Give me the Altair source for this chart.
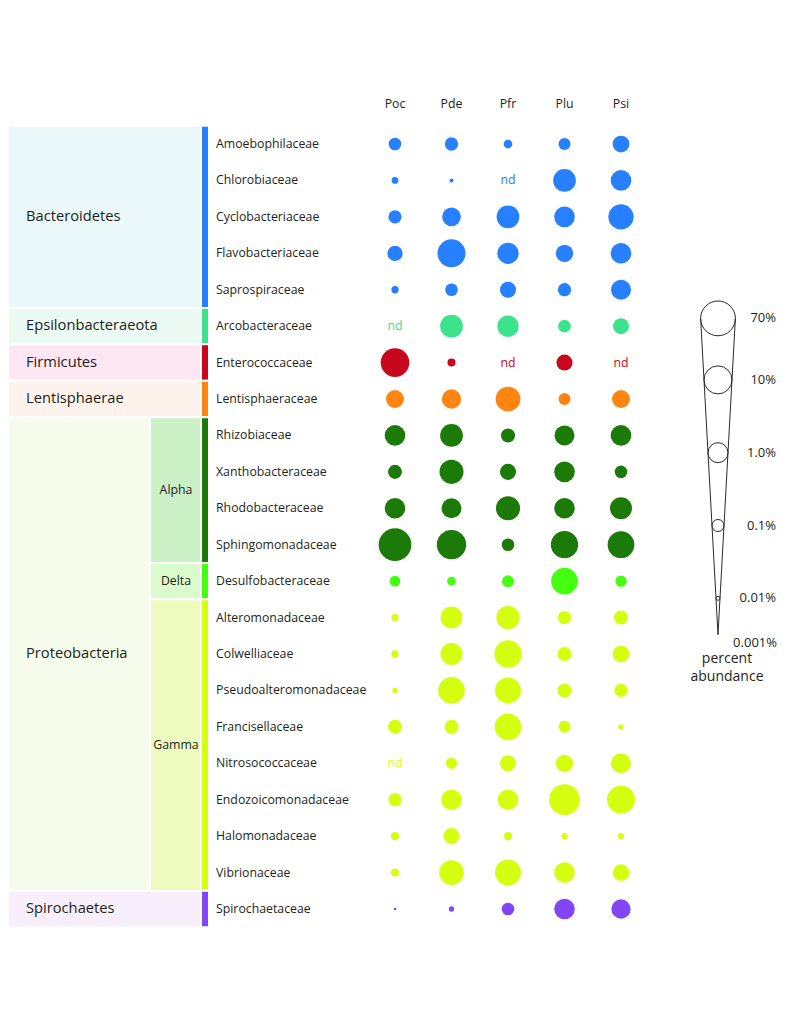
import altair as alt
import pandas as pd
import numpy as np

# ---------------- data ----------------
samples = ["Poc", "Pde", "Pfr", "Plu", "Psi"]

families = [
    "Amoebophilaceae", "Chlorobiaceae", "Cyclobacteriaceae", "Flavobacteriaceae",
    "Saprospiraceae", "Arcobacteraceae", "Enterococcaceae", "Lentisphaeraceae",
    "Rhizobiaceae", "Xanthobacteraceae", "Rhodobacteraceae", "Sphingomonadaceae",
    "Desulfobacteraceae", "Alteromonadaceae", "Colwelliaceae", "Pseudoalteromonadaceae",
    "Francisellaceae", "Nitrosococcaceae", "Endozoicomonadaceae", "Halomonadaceae",
    "Vibrionaceae", "Spirochaetaceae",
]

family_phylum = (["Bacteroidetes"] * 5 + ["Epsilonbacteraeota", "Firmicutes", "Lentisphaerae"]
                 + ["Proteobacteria"] * 13 + ["Spirochaetes"])
family_class = ([None] * 8 + ["Alpha"] * 4 + ["Delta"] + ["Gamma"] * 8 + [None])

# percent abundance per sample (None = not detected, "nd")
poc = [0.12, 0.022, 0.145, 0.26, 0.026, None, 12, 0.56, 1.2, 0.18, 1.2, 39, 0.069,
       0.026, 0.026, 0.0145, 0.18, None, 0.145, 0.032, 0.032, 0.0069]
pde = [0.145, 0.01, 0.69, 10, 0.12, 2.2, 0.032, 0.82, 2.2, 3.2, 1.0, 14.5, 0.039,
       1.78, 1.78, 6.9, 0.18, 0.082, 1.2, 0.32, 3.9, 0.0145]
pfr = [0.039, None, 2.2, 1.45, 0.32, 1.45, None, 3.9, 0.18, 0.32, 3.2, 0.12, 0.1,
       2.6, 8.2, 5.6, 6.9, 0.32, 1.2, 0.032, 5.6, 0.12]
plu = [0.1, 2.2, 1.2, 0.46, 0.145, 0.12, 0.32, 0.1, 1.0, 1.2, 1.2, 8.2, 6.9,
       0.145, 0.18, 0.18, 0.1, 0.46, 22, 0.018, 1.2, 1.2]
psi = [0.39, 1.2, 4.6, 1.2, 1.0, 0.32, None, 0.56, 1.2, 0.12, 1.78, 6.9, 0.082,
       0.18, 0.39, 0.145, 0.0145, 1.0, 10, 0.018, 0.39, 0.82]
sample_values = [poc, pde, pfr, plu, psi]

legend_values = [70, 10, 1.0, 0.1, 0.01]
legend_labels = ["70%", "10%", "1.0%", "0.1%", "0.01%"]
legend_tip_label = "0.001%"

# ---------------- styling ----------------
group_names = ["Bacteroidetes", "Epsilonbacteraeota", "Firmicutes", "Lentisphaerae",
               "Alpha", "Delta", "Gamma", "Spirochaetes"]
group_colors = ["#2680FF", "#3DE28C", "#C8071E", "#FF8512",
                "#1B7A08", "#45FF10", "#D5FF10", "#8445F8"]
block_names = ["Bacteroidetes", "Epsilonbacteraeota", "Firmicutes", "Lentisphaerae",
               "Proteobacteria", "Spirochaetes", "Alpha", "Delta", "Gamma"]
block_colors = ["#EAF8FA", "#EBFAF3", "#FCE6F1", "#FEF3EC",
                "#F5FCEB", "#F7EFFC", "#CCF0C6", "#DAFBCB", "#EEFBBF"]

FONT = "Open Sans"
TXT = "#231F20"
D_PER_DECADE = 8.0       # circle diameter (px) gained per decade
SIZE_OFFSET = 2.5        # log10(pct) + offset -> diameter units
SIZE_DMAX = 5.0

# ---------------- tables ----------------
n = len(families)
rows = pd.DataFrame({
    "family": families,
    "row": np.arange(n),
    "phylum": family_phylum,
    "cls": family_class,
})
rows["grp"] = [c if c is not None else p for p, c in zip(family_phylum, family_class)]

recs = []
for s, vals in zip(samples, sample_values):
    for i, v in enumerate(vals):
        recs.append({"sample": s, "row": i, "family": families[i],
                     "grp": rows.loc[i, "grp"], "pct": v})
cells = pd.DataFrame(recs)
dots = cells[cells["pct"].notna()].copy()
nd = cells[cells["pct"].isna()].copy()


def spans(col):
    g = rows.dropna(subset=[col]).groupby(col, sort=False)["row"].agg(["min", "max"]).reset_index()
    g.columns = ["name", "start", "end"]
    g["y0"] = g["start"] - 0.5
    g["y1"] = g["end"] + 0.5
    g["mid"] = (g["start"] + g["end"]) / 2
    return g


phy_blocks = spans("phylum")
cls_blocks = spans("cls")
grp_blocks = spans("grp")

ysc = lambda: alt.Scale(domain=[-0.5, n - 0.5], range=[117.8, 919.2], nice=False, zero=False)
color_scale = alt.Scale(domain=group_names, range=group_colors)
fill_scale = alt.Scale(domain=block_names, range=block_colors)
size_scale = alt.Scale(type="pow", exponent=2, domain=[0, SIZE_DMAX],
                       range=[0, (D_PER_DECADE * SIZE_DMAX) ** 2])
x_scale = alt.Scale(type="point", domain=samples, range=[387, 613], padding=0)

# ---------------- left-hand taxonomy blocks ----------------
bg_phy = alt.Chart(phy_blocks).mark_rect(stroke="white", strokeWidth=2).encode(
    x=alt.value(0), x2=alt.value(194),
    y=alt.Y("y0:Q", scale=ysc(), axis=None), y2="y1:Q",
    fill=alt.Fill("name:N", scale=fill_scale, legend=None),
)
bg_cls = alt.Chart(cls_blocks).mark_rect(stroke="white", strokeWidth=2).encode(
    x=alt.value(142), x2=alt.value(194),
    y=alt.Y("y0:Q", scale=ysc(), axis=None), y2="y1:Q",
    fill=alt.Fill("name:N", scale=fill_scale, legend=None),
)
bars = alt.Chart(grp_blocks).mark_rect(stroke="white", strokeWidth=2).encode(
    x=alt.value(193), x2=alt.value(201),
    y=alt.Y("y0:Q", scale=ysc(), axis=None), y2="y1:Q",
    color=alt.Color("name:N", scale=color_scale, legend=None),
)
phy_text = alt.Chart(phy_blocks).mark_text(
    align="left", baseline="middle", font=FONT, fontSize=14.7, color=TXT
).encode(x=alt.value(18), y=alt.Y("mid:Q", scale=ysc(), axis=None), text="name:N")
cls_text = alt.Chart(cls_blocks).mark_text(
    align="center", baseline="middle", font=FONT, fontSize=12.3, color=TXT
).encode(x=alt.value(168), y=alt.Y("mid:Q", scale=ysc(), axis=None), text="name:N")
fam_text = alt.Chart(rows).mark_text(
    align="left", baseline="middle", font=FONT, fontSize=12.3, color=TXT
).encode(x=alt.value(208), y=alt.Y("row:Q", scale=ysc(), axis=None), text="family:N")

# ---------------- bubble grid ----------------
headers = alt.Chart(pd.DataFrame({"sample": samples})).mark_text(
    align="center", baseline="middle", font=FONT, fontSize=12.3, color=TXT
).encode(x=alt.X("sample:N", scale=x_scale, axis=None), y=alt.value(96), text="sample:N")

bubbles = alt.Chart(dots).transform_calculate(
    dd=f"log(datum.pct)/LN10 + {SIZE_OFFSET}"
).mark_circle(opacity=1).encode(
    x=alt.X("sample:N", scale=x_scale, axis=None),
    y=alt.Y("row:Q", scale=ysc(), axis=None),
    size=alt.Size("dd:Q", scale=size_scale, legend=None),
    color=alt.Color("grp:N", scale=color_scale, legend=None),
)
nd_text = alt.Chart(nd).mark_text(
    align="center", baseline="middle", font=FONT, fontSize=12.3, text="nd"
).encode(
    x=alt.X("sample:N", scale=x_scale, axis=None),
    y=alt.Y("row:Q", scale=ysc(), axis=None),
    color=alt.Color("grp:N", scale=color_scale, legend=None),
)

# ---------------- size legend (cone) ----------------
lsc = lambda: alt.Scale(domain=[-3, 2], range=[663.1, 299.1], nice=False, zero=False)
LX = 710
half_top = D_PER_DECADE * (np.log10(max(legend_values)) + SIZE_OFFSET) / 2
leg_df = pd.DataFrame({"v": legend_values, "label": legend_labels})

cone_df = pd.DataFrame({"lg": [float(np.log10(max(legend_values)))], "lg2": [-SIZE_OFFSET]})
cone_left = alt.Chart(cone_df).mark_rule(color="#2a2a2a", strokeWidth=1).encode(
    x=alt.value(LX - half_top), x2=alt.value(LX),
    y=alt.Y("lg:Q", scale=lsc(), axis=None), y2="lg2:Q",
)
cone_right = alt.Chart(cone_df).mark_rule(color="#2a2a2a", strokeWidth=1).encode(
    x=alt.value(LX + half_top), x2=alt.value(LX),
    y=alt.Y("lg:Q", scale=lsc(), axis=None), y2="lg2:Q",
)
leg_circles = alt.Chart(leg_df).transform_calculate(
    lg="log(datum.v)/LN10", dd=f"log(datum.v)/LN10 + {SIZE_OFFSET}"
).mark_point(shape="circle", filled=False, color="#2a2a2a", strokeWidth=1, opacity=1).encode(
    x=alt.value(LX),
    y=alt.Y("lg:Q", scale=lsc(), axis=None),
    size=alt.Size("dd:Q", scale=size_scale, legend=None),
)
leg_labels = alt.Chart(leg_df).transform_calculate(
    lg="log(datum.v)/LN10"
).mark_text(align="right", baseline="middle", font=FONT, fontSize=13, color=TXT).encode(
    x=alt.value(768), y=alt.Y("lg:Q", scale=lsc(), axis=None), text="label:N",
)
tip_label = alt.Chart(pd.DataFrame({"lg": [-SIZE_OFFSET], "label": [legend_tip_label]})).mark_text(
    align="right", baseline="middle", font=FONT, fontSize=13, color=TXT, dy=8
).encode(x=alt.value(769), y=alt.Y("lg:Q", scale=lsc(), axis=None), text="label:N")
leg_title = alt.Chart(pd.DataFrame({"t": [0]})).mark_text(
    align="center", baseline="top", font=FONT, fontSize=14, color=TXT, lineHeight=18
).encode(x=alt.value(719), y=alt.value(644), text=alt.value(["percent", "abundance"]))

chart = alt.layer(
    bg_phy, bg_cls, bars, phy_text, cls_text, fam_text,
    headers, bubbles, nd_text,
    cone_left, cone_right, leg_circles, leg_labels, tip_label, leg_title,
).resolve_scale(y="independent").properties(
    width=778, height=1000, padding=0, autosize=alt.AutoSizeParams(type="none")
).configure_view(stroke=None)

chart.save("out.html", embed_options={"renderer": "svg", "actions": False})
